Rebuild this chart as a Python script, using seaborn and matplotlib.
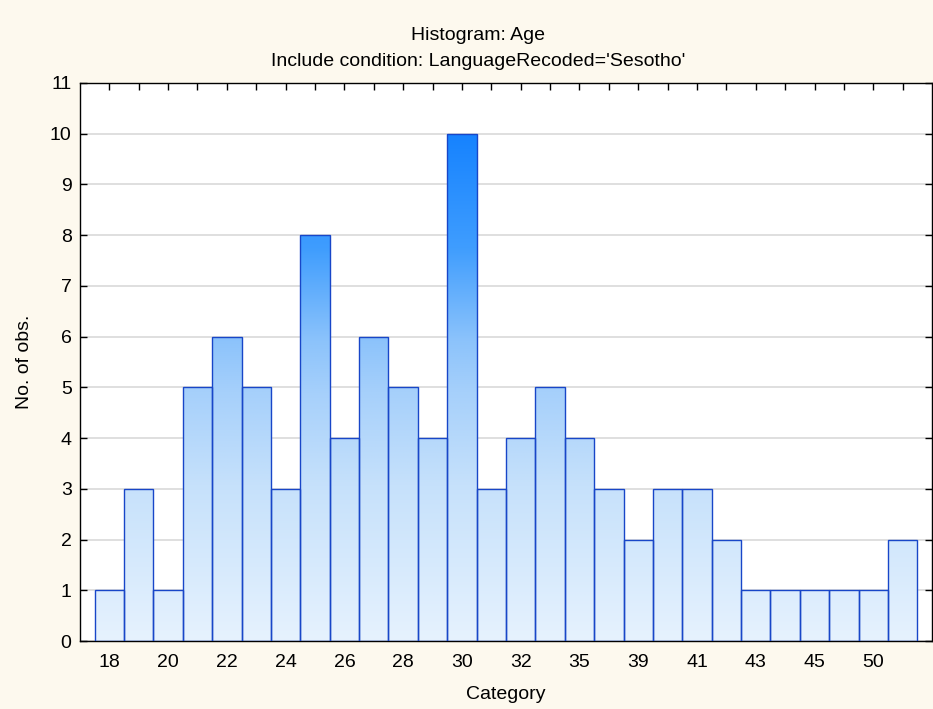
import numpy as np
import pandas as pd
import matplotlib
matplotlib.use("Agg")
import matplotlib.pyplot as plt
from matplotlib.colors import LinearSegmentedColormap
import seaborn as sns

# Data

categories = [18, 19, 20, 21, 22, 23, 24, 25, 26, 27, 28, 29, 30, 31,
              32, 33, 35, 37, 39, 40, 41, 42, 43, 44, 45, 48, 50, 54]
counts = [1, 3, 1, 5, 6, 5, 3, 8, 4, 6, 5, 4, 10, 3,
          4, 5, 4, 3, 2, 3, 3, 2, 1, 1, 1, 1, 1, 2]
labelled = [18, 20, 22, 24, 26, 28, 30, 32, 35, 39, 41, 43, 45, 50]
y_ticks = list(range(0, 12))

df = pd.DataFrame({"Category": [str(c) for c in categories], "Count": counts})

# Style

sns.set_theme(style="white")
plt.rcParams["font.family"] = ["Liberation Sans", "DejaVu Sans"]
plt.rcParams["text.color"] = "black"
plt.rcParams["axes.labelcolor"] = "black"

BG = "#fdf9ee"
EDGE = "#1846c8"
FS = 14
grad_cmap = LinearSegmentedColormap.from_list(
    "statgrad",
    [(0.0, "#e6f2fe"), (0.30, "#c6e1fb"), (0.48, "#a6d0fb"),
     (0.58, "#8cc3fb"), (0.76, "#3f9dfe"), (1.0, "#1280ff")])

fig = plt.figure(figsize=(9.33, 7.09), dpi=100, facecolor=BG)
ax = fig.add_axes([0.0857, 0.0959, 0.9133, 0.7871])
ax.set_facecolor("white")

sns.barplot(data=df, x="Category", y="Count", order=df["Category"],
            width=1.0, fill=False, edgecolor=EDGE, linewidth=1.0, ax=ax,
            zorder=3)

ymax = 11
n = len(categories)

# vertical gradient clipped to each bar
grad = np.linspace(0, 1, 256).reshape(-1, 1)
for p in ax.patches:
    x0 = p.get_x()
    x1 = x0 + p.get_width()
    im = ax.imshow(grad, cmap=grad_cmap, origin="lower", aspect="auto",
                   extent=[x0, x1, 0, 10.2], vmin=0, vmax=1, zorder=2,
                   interpolation="bilinear")
    im.set_clip_path(p)
ax.set_xlim(-1, n)
ax.set_ylim(0, ymax)

# grid and ticks
ax.set_yticks(y_ticks)
ax.yaxis.grid(True, color="#d9d9d9", linewidth=1.2, zorder=1)
ax.set_axisbelow(True)
ax.set_xticks(range(n))
ax.set_xticklabels([str(c) if c in labelled else "" for c in categories])
ax.tick_params(axis="both", direction="in", length=5, width=1, color="black",
               labelsize=FS, labelcolor="black", top=True, right=True,
               bottom=True, left=True)
ax.tick_params(axis="x", pad=9)
ax.tick_params(axis="y", pad=6)
for s in ax.spines.values():
    s.set_color("black")
    s.set_linewidth(1.0)

ax.set_xlabel("Category", fontsize=FS, labelpad=11)
ax.set_ylabel("No. of obs.", fontsize=FS, labelpad=12)

fig.text(0.512, 0.950, "Histogram: Age", ha="center", va="center", fontsize=FS)
fig.text(0.512, 0.913, "Include condition: LanguageRecoded='Sesotho'",
         ha="center", va="center", fontsize=FS)

fig.savefig("out.png", dpi=100, facecolor=BG)
